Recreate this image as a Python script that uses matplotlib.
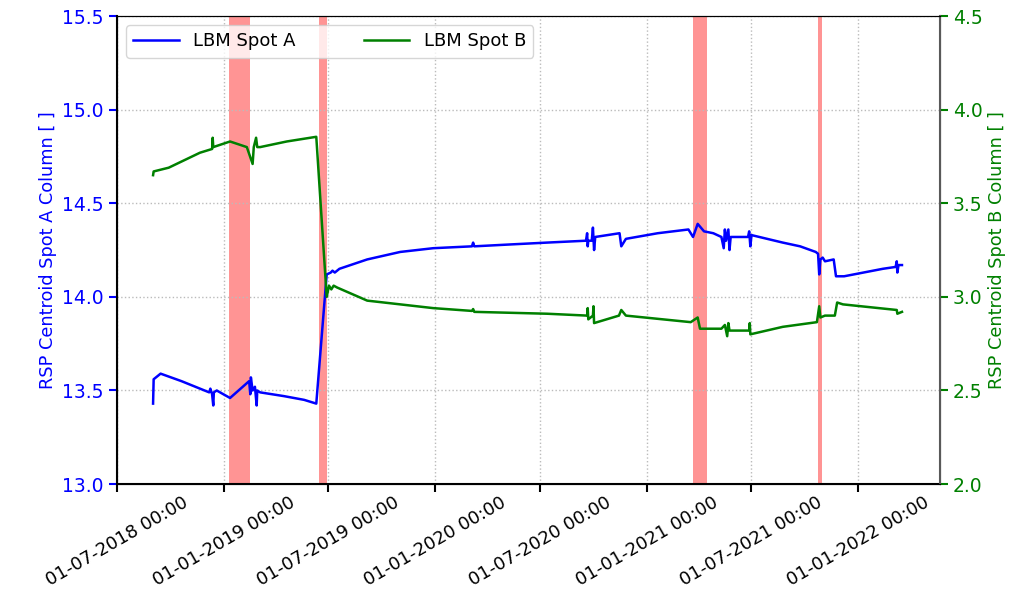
import pandas as pd
import numpy as np
import matplotlib
matplotlib.use('Agg')
import matplotlib.pyplot as plt
import matplotlib.dates as mdates

# LBM Spot A (left axis)
dates_a = ['2018-09-01', '2018-09-02', '2018-09-14', '2018-10-20', '2018-11-21',
           '2018-12-07', '2018-12-09', '2018-12-12', '2018-12-14', '2018-12-15',
           '2018-12-20', '2019-01-12', '2019-02-14', '2019-02-16', '2019-02-17',
           '2019-02-20', '2019-02-24', '2019-02-27', '2019-02-28', '2019-03-05',
           '2019-04-15', '2019-05-20', '2019-06-10', '2019-06-28', '2019-07-05',
           '2019-07-08', '2019-07-12', '2019-07-20', '2019-09-06', '2019-11-02',
           '2019-12-29', '2020-03-05', '2020-03-07', '2020-03-09', '2020-05-10',
           '2020-07-13', '2020-09-18', '2020-09-20', '2020-09-21', '2020-09-22',
           '2020-09-28', '2020-09-30', '2020-10-02', '2020-10-04', '2020-11-15',
           '2020-11-18', '2020-11-26', '2021-01-20', '2021-03-14', '2021-03-22',
           '2021-03-30', '2021-04-10', '2021-04-26', '2021-05-10', '2021-05-14',
           '2021-05-16', '2021-05-18', '2021-05-22', '2021-05-24', '2021-05-26',
           '2021-06-25', '2021-06-27', '2021-06-29', '2021-07-01', '2021-08-24',
           '2021-09-23', '2021-10-20', '2021-10-24', '2021-10-26', '2021-10-28',
           '2021-11-01', '2021-11-05', '2021-11-20', '2021-11-24', '2021-12-08',
           '2022-02-13', '2022-03-07', '2022-03-09', '2022-03-10', '2022-03-12',
           '2022-03-18']
spot_a = [13.43, 13.56, 13.59, 13.55, 13.51,
          13.49, 13.51, 13.48, 13.42, 13.49,
          13.50, 13.46, 13.55, 13.48, 13.57,
          13.50, 13.52, 13.42, 13.50, 13.49,
          13.47, 13.45, 13.43, 14.12, 14.13,
          14.14, 14.13, 14.15, 14.20, 14.24,
          14.26, 14.27, 14.29, 14.27, 14.28,
          14.29, 14.30, 14.34, 14.27, 14.30,
          14.30, 14.37, 14.25, 14.32, 14.34,
          14.27, 14.31, 14.34, 14.36, 14.32,
          14.39, 14.35, 14.34, 14.32, 14.26,
          14.36, 14.30, 14.36, 14.25, 14.32,
          14.32, 14.35, 14.27, 14.33, 14.29,
          14.27, 14.24, 14.23, 14.12, 14.20,
          14.21, 14.19, 14.20, 14.11, 14.11,
          14.15, 14.16, 14.19, 14.13, 14.17,
          14.17]

# LBM Spot B (right axis)
dates_b = ['2018-09-01', '2018-09-02', '2018-09-28', '2018-11-21', '2018-12-12',
           '2018-12-13', '2018-12-14', '2019-01-12', '2019-02-10', '2019-02-20',
           '2019-02-22', '2019-02-26', '2019-02-28', '2019-03-05', '2019-04-20',
           '2019-06-10', '2019-06-28', '2019-07-02', '2019-07-06', '2019-07-10',
           '2019-07-16', '2019-09-06', '2019-12-29', '2020-03-05', '2020-03-07',
           '2020-03-09', '2020-07-13', '2020-09-20', '2020-09-21', '2020-09-22',
           '2020-09-30', '2020-10-01', '2020-10-02', '2020-11-14', '2020-11-18',
           '2020-11-26', '2021-03-18', '2021-03-30', '2021-04-03', '2021-05-10',
           '2021-05-16', '2021-05-20', '2021-05-22', '2021-05-24', '2021-06-27',
           '2021-06-28', '2021-06-29', '2021-08-24', '2021-10-22', '2021-10-26',
           '2021-10-28', '2021-11-05', '2021-11-22', '2021-11-26', '2021-12-06',
           '2022-03-09', '2022-03-10', '2022-03-18']
spot_b = [3.65, 3.67, 3.69, 3.77, 3.79,
          3.85, 3.80, 3.83, 3.80, 3.71,
          3.80, 3.85, 3.80, 3.80, 3.83,
          3.855, 3.00, 3.06, 3.04, 3.06,
          3.05, 2.98, 2.94, 2.925, 2.935,
          2.92, 2.91, 2.90, 2.94, 2.88,
          2.90, 2.95, 2.86, 2.90, 2.93,
          2.90, 2.865, 2.89, 2.83, 2.83,
          2.85, 2.79, 2.86, 2.82, 2.82,
          2.86, 2.80, 2.84, 2.865, 2.95,
          2.89, 2.90, 2.90, 2.97, 2.96,
          2.93, 2.91, 2.92]

# red bands
band_start = ['2019-01-10', '2019-06-15', '2021-03-22', '2021-10-24']
band_end = ['2019-02-15', '2019-06-29', '2021-04-15', '2021-10-31']

da = pd.to_datetime(dates_a)
db = pd.to_datetime(dates_b)

fig = plt.figure(figsize=(10.28, 5.94), dpi=100)
ax = fig.add_axes([0.114, 0.185, 0.8, 0.788])
ax2 = ax.twinx()

l1, = ax.plot(da, spot_a, color='blue', lw=1.8, label='LBM Spot A')
l2, = ax2.plot(db, spot_b, color='green', lw=1.8, label='LBM Spot B')

for s, e in zip(band_start, band_end):
    ax.axvspan(pd.Timestamp(s), pd.Timestamp(e), color='red', alpha=0.42, lw=0)

ax.set_ylim(13.0, 15.5)
ax2.set_ylim(2.0, 4.5)
ax.set_yticks(np.arange(13.0, 15.51, 0.5))
ax2.set_yticks(np.arange(2.0, 4.51, 0.5))
ax.set_xlim(pd.Timestamp('2018-07-01'), pd.Timestamp('2022-05-22'))
ax.xaxis.set_major_locator(mdates.MonthLocator(bymonth=[1, 7]))
ax.xaxis.set_major_formatter(mdates.DateFormatter('%d-%m-%Y %H:%M'))
plt.setp(ax.get_xticklabels(), rotation=30, ha='center')

ax.grid(True, color='#bbbbbb', linestyle=':', lw=1)

ax.set_ylabel('RSP Centroid Spot A Column [ ]', color='blue', fontsize=12.8)
ax2.set_ylabel('RSP Centroid Spot B Column [ ]', color='green', fontsize=12.8)
ax.tick_params(axis='y', colors='blue', labelsize=13.5, length=6, width=1.5)
ax2.tick_params(axis='y', colors='green', labelsize=13.5, length=6, width=1.5)
ax.tick_params(axis='x', labelsize=13, length=6, width=1.5, pad=1)
ax2.spines['right'].set_color('0.35')
ax2.spines['right'].set_linewidth(1.5)
ax.spines['left'].set_linewidth(1.5)
ax.spines['bottom'].set_linewidth(1.5)

ax2.legend([l1, l2], ['LBM Spot A', 'LBM Spot B'], loc='upper left', ncol=2,
           fontsize=13, handlelength=2.5, columnspacing=3.8)

fig.savefig('out.png', dpi=100)
